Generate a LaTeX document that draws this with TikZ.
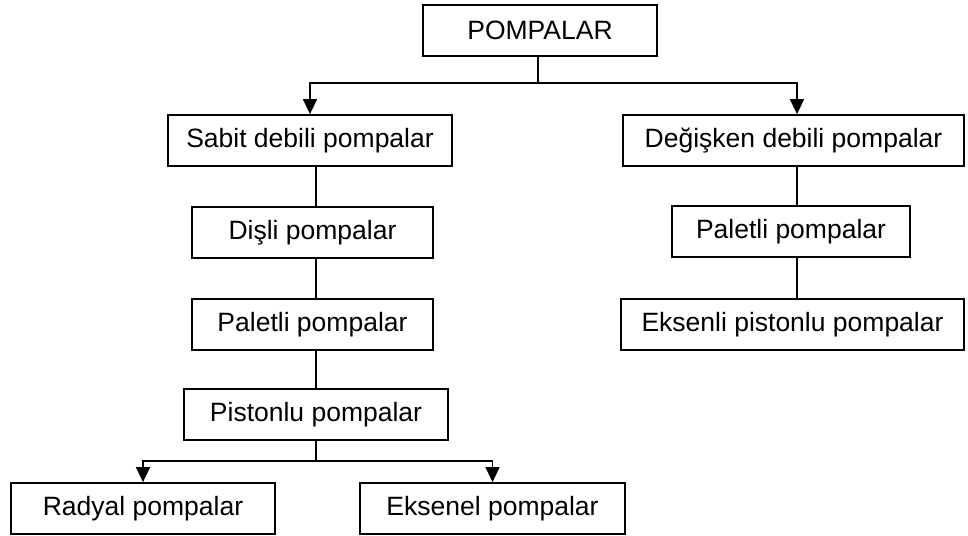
\documentclass[tikz,border=0pt]{standalone}
\usepackage{fontspec}
\setmainfont{Liberation Sans}
\usetikzlibrary{arrows.meta}
\tikzset{
  box/.style={draw=black, line width=1.8pt, minimum height=51pt, inner sep=0pt,
    font=\fontsize{26.5}{30}\selectfont, anchor=center},
  link/.style={draw=black, line width=1.5pt},
  arr/.style={link, -{Triangle[width=14pt,length=15pt]}}
}
\begin{document}
\begin{tikzpicture}[x=1pt,y=-1pt]
\useasboundingbox (0,0) rectangle (968,535);
\node[box, minimum width=234pt] (top) at (540,30.5) {POMPALAR};
\node[box, minimum width=284pt] (sabit) at (310,140.5) {Sabit debili pompalar};
\node[box, minimum width=341pt] (degisken) at (793.5,140.5) {Değişken debili pompalar};
\node[box, minimum width=241pt] (disli) at (312.5,232.5) {Dişli pompalar};
\node[box, minimum width=241pt] (paletL) at (312.5,324.5) {Paletli pompalar};
\node[box, minimum width=264pt] (piston) at (316,414.5) {Pistonlu pompalar};
\node[box, minimum width=264pt] (radyal) at (143,508.5) {Radyal pompalar};
\node[box, minimum width=265pt] (eksenel) at (492.5,508.5) {Eksenel pompalar};
\node[box, minimum width=238pt] (paletR) at (791,231.5) {Paletli pompalar};
\node[box, minimum width=343pt] (eksenli) at (792.5,324.5) {Eksenli pistonlu pompalar};
\coordinate (j1) at (538,83);
\coordinate (j2) at (316,461);
\coordinate (rc) at (797,0);
\draw[link] (top.south -| j1) -- (j1);
\draw[arr] (j1) -| (sabit.north);
\draw[arr] (j1) -| (rc |- degisken.north);
\draw[link] (piston.north |- sabit.south) -- (piston.north |- disli.north);
\draw[link] (piston.north |- disli.south) -- (piston.north |- paletL.north);
\draw[link] (piston.north |- paletL.south) -- (piston.north);
\draw[link] (piston.south) -- (j2);
\draw[arr] (j2) -| (radyal.north);
\draw[arr] (j2) -| (eksenel.north);
\draw[link] (rc |- degisken.south) -- (rc |- paletR.north);
\draw[link] (rc |- paletR.south) -- (rc |- eksenli.north);
\end{tikzpicture}
\end{document}
